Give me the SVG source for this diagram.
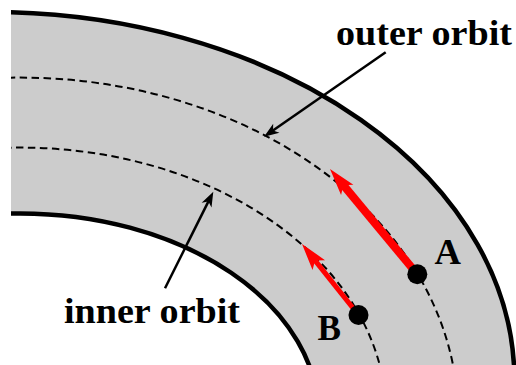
<svg xmlns="http://www.w3.org/2000/svg" width="516" height="365" viewBox="0 0 516 365">
  <defs>
    <clipPath id="clip"><rect x="11" y="0" width="505" height="365"/></clipPath>
    <style>
      .bound { fill: none; stroke: #000; stroke-width: 4.5; }
      .orbit { fill: none; stroke: #000; stroke-width: 2; stroke-dasharray: 7.5 4.5; }
      .vel { stroke: #ff0000; fill: none; }
      .velhead { fill: #ff0000; }
      .ptr { stroke: #000; stroke-width: 2.5; fill: none; }
      .ptrhead { fill: #000; }
      .lbl { font-family: "Liberation Serif", "Times New Roman", serif; font-weight: bold; fill: #000; }
    </style>
  </defs>
  <rect x="0" y="0" width="516" height="365" fill="#fff"/>
  <g id="band" clip-path="url(#clip)">
    <path fill="#cccccc" fill-rule="evenodd" d="M-534.4,380 a524.4,368 0 1 0 1048.8,0 a524.4,368 0 1 0 -1048.8,0 Z M-278.6,416 a298.6,202.6 0 1 0 597.2,0 a298.6,202.6 0 1 0 -597.2,0 Z"/>
    <ellipse id="outer-orbit" class="orbit" cx="20" cy="416" rx="438" ry="338.4"/>
    <ellipse id="inner-orbit" class="orbit" cx="20" cy="416" rx="366.4" ry="268.4"/>
    <ellipse id="outer-edge" class="bound" cx="-10" cy="380" rx="524.4" ry="368"/>
    <ellipse id="inner-edge" class="bound" cx="20" cy="416" rx="298.6" ry="202.6"/>
  </g>
  <g id="connectors">
    <line class="vel" stroke-width="8" x1="417.3" y1="274.3" x2="341.5" y2="182.9"/>
    <path class="velhead" transform="translate(330,169) rotate(230.34)" d="M0,0 L-27,-8 L-21,0 L-27,8 Z"/>
    <line class="vel" stroke-width="5" x1="358.5" y1="315" x2="313.2" y2="258.1"/>
    <path class="velhead" transform="translate(302,244) rotate(231.5)" d="M0,0 L-27,-8 L-21,0 L-27,8 Z"/>
    <line class="ptr" x1="385.7" y1="52.3" x2="272.2" y2="131"/>
    <path class="ptrhead" transform="translate(264,136.7) rotate(145.26)" d="M0,0 L-15,-5.5 L-11,0 L-15,5.5 Z"/>
    <line class="ptr" x1="165" y1="288.3" x2="208.8" y2="200.6"/>
    <path class="ptrhead" transform="translate(213.3,191.7) rotate(-63.43)" d="M0,0 L-15,-5.5 L-11,0 L-15,5.5 Z"/>
  </g>
  <g id="A">
    <circle cx="417.3" cy="274.3" r="10" fill="#000"/>
    <text class="lbl" x="434.5" y="263.5" font-size="35" textLength="26.5" lengthAdjust="spacingAndGlyphs">A</text>
  </g>
  <g id="B">
    <circle cx="358.5" cy="315" r="10" fill="#000"/>
    <text class="lbl" x="317.5" y="339.5" font-size="35" textLength="23.5" lengthAdjust="spacingAndGlyphs">B</text>
  </g>
  <g id="label-outer">
    <text class="lbl" x="336" y="44.5" font-size="36.5" textLength="176" lengthAdjust="spacingAndGlyphs">outer orbit</text>
  </g>
  <g id="label-inner">
    <text class="lbl" x="64" y="322.5" font-size="36.5" textLength="176" lengthAdjust="spacingAndGlyphs">inner orbit</text>
  </g>
</svg>
